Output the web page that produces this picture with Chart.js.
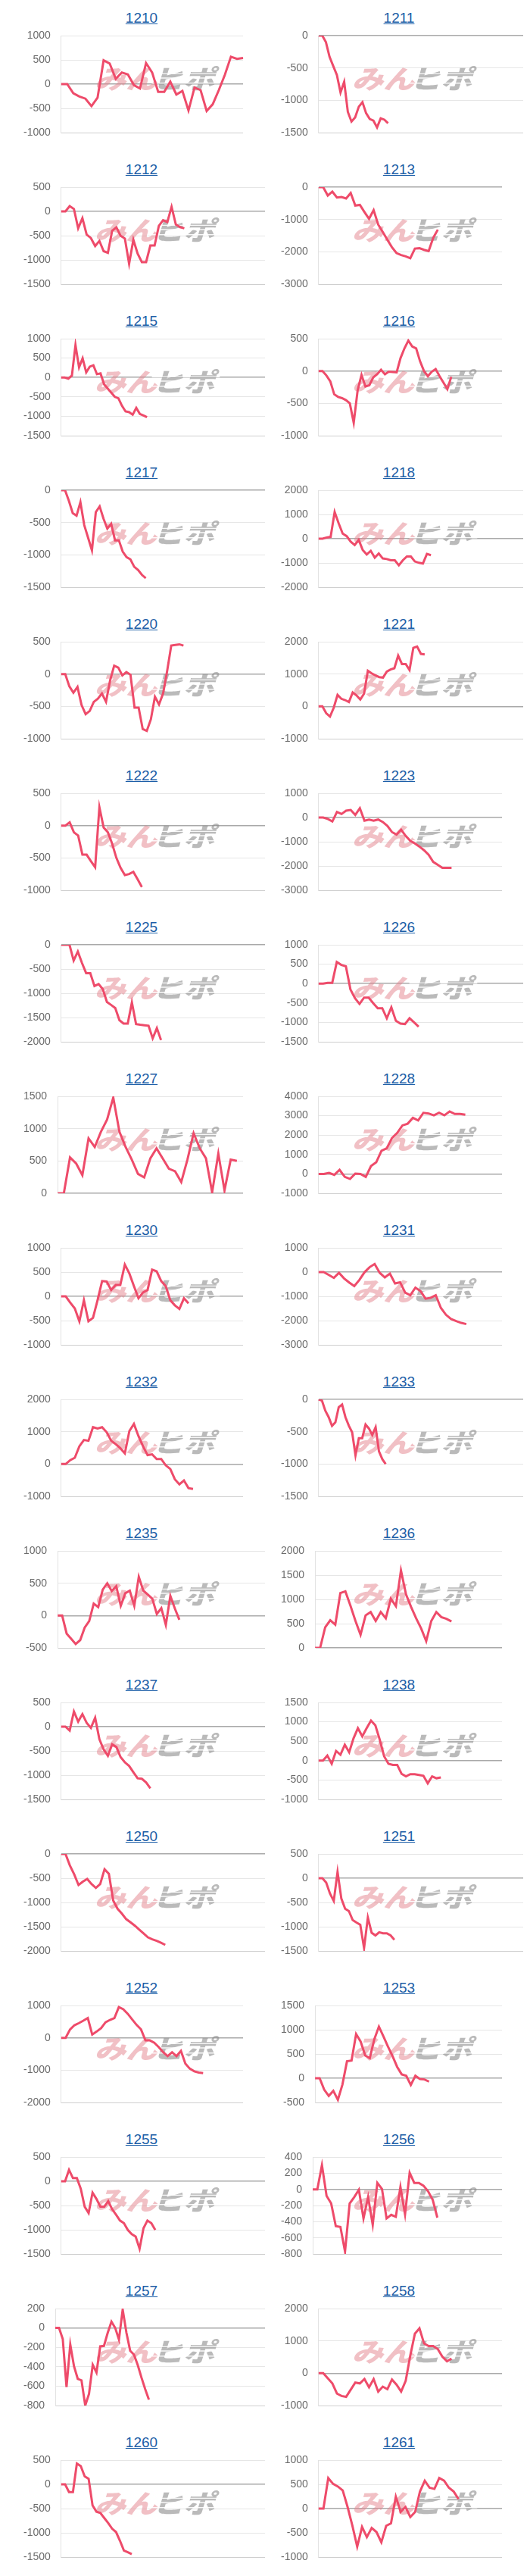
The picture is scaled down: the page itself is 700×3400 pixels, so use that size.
<!DOCTYPE html>
<html lang="ja">
    <head>
        <meta charset="UTF-8" />
        <title>収支グラフ</title>
        <script src="https://cdn.jsdelivr.net/npm/chart.js@4"></script>
        <style>
            body { margin: 0; background: #fff; }
            #board { position: relative; width: 700px; height: 3400px; }
            .title {
                position: absolute;
                width: 340px;
                text-align: center;
                font: 19px "Liberation Sans", Arial, sans-serif;
                line-height: 22px;
            }
            .title a { color: #1c5ea7; text-decoration: underline; }
            canvas { position: absolute; }
        </style>
    </head>
    <body>
        <div id="board"></div>

        <script>
            // chart codes, in page order (left, right, left, right ...)
            const codes = ["1210", "1211", "1212", "1213", "1215", "1216", "1217", "1218",
                "1220", "1221", "1222", "1223", "1225", "1226", "1227", "1228",
                "1230", "1231", "1232", "1233", "1235", "1236", "1237", "1238",
                "1250", "1251", "1252", "1253", "1255", "1256", "1257", "1258",
                "1260", "1261"];

            // cumulative values per chart
            const v1210 = [0, 0, -190, -255, -300, -455, -280, 490, 425, 110, 240, 200, -20, -90, 435, 240, -160, -160, 50, -215, -140, -545, -70, -125, -555, -415, -125, 190, 565, 520, 540];
            const v1211 = [0, 0, -100, -330, -470, -610, -880, -715, -1180, -1330, -1265, -1100, -1030, -1200, -1290, -1315, -1420, -1280, -1300, -1355];
            const v1212 = [0, 0, 110, 50, -350, -140, -480, -550, -715, -610, -820, -855, -400, -330, -505, -560, -1080, -585, -870, -1045, -1045, -705, -705, -300, -180, -220, 95, -270, -325, -350];
            const v1213 = [0, 0, -260, -140, -320, -305, -350, -180, -570, -550, -770, -980, -710, -1160, -1390, -1630, -1860, -2040, -2100, -2140, -2200, -1900, -1890, -1940, -1980, -1570, -1315];
            const v1215 = [0, 0, -30, 50, 835, 260, 495, 130, 280, 315, 85, 105, -175, -285, -390, -500, -535, -730, -875, -895, -960, -785, -940, -980, -1025];
            const v1216 = [0, 0, -70, -160, -360, -400, -420, -450, -500, -800, -300, -60, -240, -220, -100, -50, 20, -50, -10, -15, -20, 200, 350, 470, 380, 350, 150, 0, -80, -10, 30, -80, -180, -280, -90];
            const v1217 = [0, 0, -165, -355, -395, -185, -540, -735, -930, -340, -250, -440, -595, -520, -775, -775, -950, -1035, -1070, -1185, -1235, -1310, -1360];
            const v1218 = [0, 0, 50, 75, 1100, 630, 210, 105, -125, -260, -50, -470, -650, -500, -785, -610, -815, -840, -890, -890, -1100, -890, -735, -735, -940, -995, -1025, -630, -680];
            const v1220 = [0, 0, -190, -290, -200, -480, -620, -570, -430, -380, -300, -430, -100, 130, 100, -20, 30, -10, -520, -520, -850, -880, -700, -350, -470, -300, 50, 440, 450, 460, 440];
            const v1221 = [0, 0, -210, -315, -40, 355, 235, 195, 135, 430, 340, 210, 395, 1100, 1020, 960, 905, 890, 1075, 1140, 1180, 1570, 1310, 1310, 1125, 1810, 1850, 1625, 1610];
            const v1222 = [0, 0, 50, -105, -155, -450, -450, -550, -645, 285, -30, -105, -280, -500, -655, -765, -750, -715, -830, -950];
            const v1223 = [0, 0, -60, -165, 230, 145, 280, 310, 105, 385, -135, -85, -135, -85, -185, -345, -600, -705, -500, -760, -965, -1070, -1200, -1350, -1535, -1830, -1950, -2075, -2075, -2075];
            const v1225 = [0, 0, 0, -325, -140, -375, -585, -585, -850, -810, -915, -1180, -1240, -1305, -1555, -1625, -1625, -1190, -1635, -1650, -1660, -1670, -1930, -1720, -1965];
            const v1226 = [0, 0, 20, 20, 555, 480, 445, -150, -375, -525, -360, -360, -505, -635, -635, -895, -610, -960, -1030, -1045, -895, -1000, -1110];
            const v1227 = [0, 0, 555, 460, 280, 850, 715, 950, 1140, 1480, 950, 715, 520, 300, 245, 540, 695, 540, 380, 340, 175, 520, 930, 695, 540, 15, 615, 45, 520, 500];
            const v1228 = [0, 0, 50, -50, 210, -155, -260, 15, 0, -155, 405, 600, 1190, 1320, 1845, 2110, 2500, 2590, 2890, 2760, 3150, 3115, 3020, 3150, 3020, 3220, 3090, 3090, 3050];
            const v1230 = [0, 0, -130, -250, -515, -80, -515, -445, -80, 315, 305, 130, 235, 235, 655, 470, 210, -40, 80, 130, 550, 515, 315, 210, -80, -185, -260, -40, -145];
            const v1231 = [0, 0, -115, -240, -30, -260, -430, -575, -325, -10, 200, 335, -30, -220, -65, -470, -420, -850, -955, -640, -785, -1100, -1060, -955, -1475, -1760, -1935, -2020, -2095, -2145];
            const v1232 = [0, 0, 120, 195, 550, 745, 720, 1140, 1100, 1140, 985, 720, 615, 490, 330, 1020, 1240, 865, 550, 275, 300, 155, 155, -40, -155, -470, -630, -510, -745, -770];
            const v1233 = [0, -20, -175, -275, -410, -355, -120, -80, -275, -405, -510, -865, -600, -600, -390, -450, -550, -430, -805, -925, -1000];
            const v1235 = [0, 0, -280, -360, -440, -380, -185, -85, 185, 130, 400, 500, 380, 455, 150, 345, 385, 150, 600, 385, 325, 260, 25, 115, -145, 305, 110, -65];
            const v1236 = [0, 0, 425, 570, 480, 1130, 1165, 870, 555, 270, 670, 740, 555, 740, 610, 1015, 860, 1600, 1105, 845, 610, 400, 140, 555, 740, 635, 600, 545];
            const v1237 = [0, 0, -80, 315, 105, 260, 80, -25, 185, -260, -470, -600, -365, -420, -630, -735, -810, -940, -1065, -1075, -1150, -1270];
            const v1238 = [0, 0, 130, -80, 250, 150, 410, 215, 575, 835, 625, 835, 1030, 910, 540, 115, -80, -110, -110, -340, -405, -350, -350, -370, -390, -585, -405, -455, -435];
            const v1250 = [0, 0, -235, -420, -640, -570, -515, -620, -700, -620, -315, -410, -960, -1130, -1230, -1345, -1410, -1480, -1560, -1640, -1720, -1760, -1790, -1830, -1875];
            const v1251 = [0, 0, -90, -315, -470, 130, -420, -630, -680, -865, -915, -960, -1440, -810, -1125, -1180, -1115, -1135, -1135, -1180, -1270];
            const v1252 = [0, 0, 260, 390, 455, 530, 610, 100, 195, 300, 480, 555, 610, 950, 885, 745, 570, 400, 260, -80, -80, -155, -290, -445, -565, -445, -565, -405, -800, -955, -1035, -1075, -1090];
            const v1253 = [0, 0, -235, -365, -260, -445, -130, 350, 365, 910, 755, 470, 415, 805, 1065, 860, 650, 455, 235, 80, 50, -140, 50, -15, -25, -70];
            const v1255 = [0, 0, 235, 65, 65, -155, -525, -655, -235, -365, -525, -525, -410, -575, -690, -810, -865, -1005, -1090, -1140, -1390, -970, -810, -865, -1005];
            const v1256 = [0, 0, 300, -80, -175, -455, -465, -770, -175, -95, -5, -360, -95, -440, 80, 5, -360, -315, -340, 30, -310, 205, 80, 80, 45, -25, -130, -350];
            const v1257 = [0, 0, -115, -610, -170, -395, -525, -540, -800, -680, -380, -460, -190, -185, -50, 65, 0, -120, 190, -50, -235, -275, -380, -510, -630, -740];
            const v1258 = [0, 0, -155, -315, -630, -705, -730, -510, -290, -315, -180, -435, -180, -570, -415, -495, -195, -355, -570, -235, 550, 1220, 1390, 920, 840, 840, 745, 510, 370, 450];
            const v1260 = [0, 0, -160, -160, 430, 375, 165, 115, -435, -565, -590, -695, -800, -915, -985, -1165, -1365, -1400, -1440];
            const v1261 = [0, 0, 630, 510, 455, 375, 35, -355, -785, -380, -590, -400, -485, -695, -355, -305, 245, -70, 35, -175, -70, 350, 575, 430, 405, 630, 575, 430, 350, 195];

            const seriesList = [v1210, v1211, v1212, v1213, v1215, v1216, v1217, v1218,
                v1220, v1221, v1222, v1223, v1225, v1226, v1227, v1228,
                v1230, v1231, v1232, v1233, v1235, v1236, v1237, v1238,
                v1250, v1251, v1252, v1253, v1255, v1256, v1257, v1258,
                v1260, v1261];

            // length of each x axis (number of slots, most are only partly filled)
            const slotCounts = [31, 57, 49, 41, 58, 48, 54, 52, 51, 55, 49, 41, 50, 46, 31, 36,
                41, 37, 41, 62, 47, 38, 49, 43, 48, 55, 42, 42, 53, 42, 57, 41, 53, 39];

            // y axis tick range
            const yMin = [-1000, -1500, -1500, -3000, -1500, -1000, -1500, -2000, -1000, -1000, -1000, -3000,
                -2000, -1500, 0, -1000, -1000, -3000, -1000, -1500, -500, 0, -1500, -1000,
                -2000, -1500, -2000, -500, -1500, -800, -800, -1000, -1500, -1000];
            const yMax = [1000, 0, 500, 0, 1000, 500, 0, 2000, 500, 2000, 500, 1000,
                0, 1000, 1500, 4000, 1000, 1000, 2000, 0, 1000, 2000, 500, 1500,
                0, 500, 1000, 1500, 500, 400, 200, 2000, 500, 1000];
            const yStep = [500, 500, 500, 1000, 500, 500, 500, 1000, 500, 1000, 500, 1000,
                500, 500, 500, 1000, 500, 1000, 1000, 500, 500, 500, 500, 500,
                500, 500, 1000, 500, 500, 200, 200, 1000, 500, 500];

            // some plots stop short of the column edge
            const shortPlot = [1, 0, 0, 1, 0, 1, 0, 0, 0, 0, 0, 1, 0, 0, 1, 1,
                1, 1, 1, 0, 0, 1, 0, 1, 0, 0, 1, 1, 0, 1, 0, 1, 0, 1];

            Chart.defaults.font.family = '"Liberation Sans", Arial, sans-serif';
            Chart.defaults.font.size = 14;
            Chart.defaults.color = "#6b6b6b";

            const watermark = {
                id: "watermark",
                beforeDatasetsDraw(chart, args, opts) {
                    const ctx = chart.ctx;
                    ctx.save();
                    ctx.translate(opts.x, 104);
                    ctx.scale(1.15, 0.95);
                    ctx.font = 'italic 900 36px "Noto Sans CJK JP"';
                    ctx.textBaseline = "middle";
                    const w1 = ctx.measureText("みん").width;
                    const w2 = ctx.measureText("ヒポ").width;
                    const x0 = -(w1 + w2 - 6) / 2;
                    ctx.fillStyle = "rgba(228, 130, 140, 0.5)";
                    ctx.fillText("みん", x0, 0);
                    ctx.fillStyle = "rgba(140, 140, 140, 0.6)";
                    ctx.fillText("ヒポ", x0 + w1 - 6, 0);
                    // speed stripes across the grey half
                    ctx.strokeStyle = "rgba(255, 255, 255, 0.9)";
                    ctx.lineWidth = 1.5;
                    [-7, -1, 6].forEach((dy) => {
                        ctx.beginPath();
                        ctx.moveTo(x0 + w1 - 6, dy);
                        ctx.lineTo(x0 + w1 + w2, dy);
                        ctx.stroke();
                    });
                    ctx.restore();
                },
            };

            const board = document.getElementById("board");

            codes.forEach((code, i) => {
                const row = Math.floor(i / 2);
                const col = i % 2;
                const top = row * 200;
                const left = col * 350;

                const title = document.createElement("div");
                title.className = "title";
                title.style.left = left + (col ? 7 : 17) + "px";
                title.style.top = top + 13 + "px";
                const link = document.createElement("a");
                link.href = "#" + code;
                link.textContent = code;
                title.appendChild(link);
                board.appendChild(title);

                const canvas = document.createElement("canvas");
                canvas.width = 350;
                canvas.height = 200;
                canvas.style.left = left + "px";
                canvas.style.top = top + "px";
                board.appendChild(canvas);

                const padLeft = col ? 7 : 17;
                const padRight = col ? (shortPlot[i] ? 37 : 9) : (shortPlot[i] ? 29 : 0);
                const labels = Array.from({ length: slotCounts[i] }, (_, k) => k + 1);
                const lowest = yMin[i];

                new Chart(canvas, {
                    type: "line",
                    data: {
                        labels: labels,
                        datasets: [
                            {
                                data: seriesList[i],
                                borderColor: "#ee4b6a",
                                borderWidth: 3,
                                pointRadius: 0,
                                tension: 0,
                                fill: false,
                            },
                        ],
                    },
                    options: {
                        responsive: false,
                        animation: false,
                        layout: {
                            padding: { top: 47, bottom: 25, left: padLeft, right: padRight },
                        },
                        plugins: {
                            legend: { display: false },
                            tooltip: { enabled: false },
                            watermark: { x: padLeft + 187 },
                        },
                        scales: {
                            x: { display: false },
                            y: {
                                min: yMin[i],
                                max: yMax[i],
                                ticks: {
                                    stepSize: yStep[i],
                                    padding: 14,
                                    color: "#6b6b6b",
                                    callback: (value) => String(value),
                                },
                                grid: {
                                    drawTicks: false,
                                    color: (c) => c.tick.value === 0 ? "#a9a9a9"
                                        : (c.tick.value === lowest ? "#cfcfcf" : "#e6e6e6"),
                                    lineWidth: (c) => c.tick.value === 0 ? 1.5 : 1,
                                },
                                border: { color: "#e2e2e2" },
                            },
                        },
                    },
                    plugins: [watermark],
                });
            });
        </script>
    </body>
</html>
